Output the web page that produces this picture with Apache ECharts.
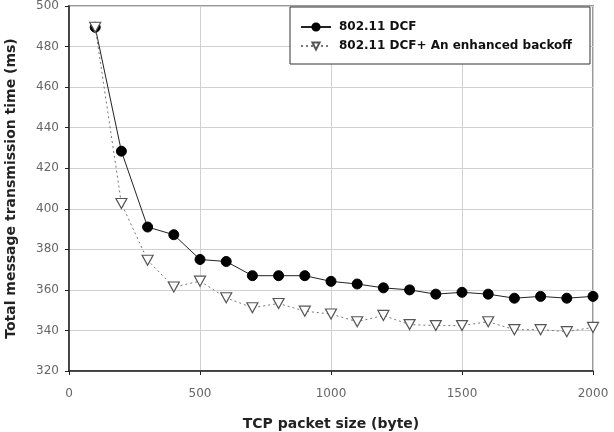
<!DOCTYPE html>
<html>
<head>
<meta charset="utf-8">
<script src="https://cdn.jsdelivr.net/npm/echarts@6/dist/echarts.min.js"></script>
<style>
  html, body { margin: 0; padding: 0; background: #fff; }
  #chart { width: 614px; height: 432px; }
</style>
</head>
<body>
<div id="chart"></div>
<script>
// packet sizes (byte)
var packetSizes = [100, 200, 300, 400, 500, 600, 700, 800, 900, 1000,
  1100, 1200, 1300, 1400, 1500, 1600, 1700, 1800, 1900, 2000];
// 802.11 DCF
var dcf = [489.5, 428.4, 391, 387.2, 375, 374, 367, 367, 367, 364.2,
  362.9, 361, 360, 357.9, 358.8, 357.9, 355.9, 356.8, 355.9, 356.8];
// 802.11 DCF+ enhanced backoff
var enhanced = [489.5, 402.6, 374.6, 361.4, 364.3, 356.1, 351.2, 353.3, 349.5, 348.1,
  344.3, 347.4, 342.9, 342.4, 342.4, 344.3, 340.4, 340.4, 339.4, 341.5];
var seriesNames = ['802.11 DCF', '802.11 DCF+ An enhanced backoff'];

function pairs(ys) {
  return packetSizes.map(function (x, i) { return [x, ys[i]]; });
}

var myChart = echarts.init(document.getElementById('chart'));
var font = 'DejaVu Sans, Verdana, sans-serif';

var option = {
  animation: false,
  textStyle: { fontFamily: font },
  grid: {
    left: 69, right: 21, top: 6, bottom: 61,
    outerBoundsMode: 'none',
    containLabel: false,
    show: true,
    borderColor: '#9a9a9a',
    borderWidth: 2,
    backgroundColor: '#fff'
  },
  legend: {
    left: 290, top: 7,
    orient: 'vertical',
    backgroundColor: '#fff',
    borderColor: '#333',
    borderWidth: 1,
    borderRadius: 0,
    padding: [14, 18, 12, 10],
    itemGap: 7,
    itemWidth: 30,
    itemHeight: 9,
    textStyle: { fontFamily: font, fontSize: 12, fontWeight: 'bold', color: '#111', padding: [0, 0, 0, 3] },
    data: seriesNames
  },
  xAxis: {
    type: 'value',
    min: 0, max: 2000, interval: 500,
    name: 'TCP packet size (byte)',
    nameLocation: 'middle',
    nameGap: 46,
    nameTextStyle: { fontFamily: font, fontSize: 14, fontWeight: 'bold', color: '#222' },
    axisLine: { show: true, onZero: false, lineStyle: { color: '#222', width: 1.5 } },
    axisTick: { show: true, length: 4, lineStyle: { color: '#222' } },
    axisLabel: {
      fontFamily: font, fontSize: 12, color: '#666', margin: 17,
      formatter: function (v) { return String(v); }
    },
    splitLine: { show: true, lineStyle: { color: '#d0d0d0', width: 1 } }
  },
  yAxis: {
    type: 'value',
    min: 320, max: 500, interval: 20,
    name: 'Total message transmission time (ms)',
    nameLocation: 'middle',
    nameGap: 51,
    nameTextStyle: { fontFamily: font, fontSize: 14, fontWeight: 'bold', color: '#222' },
    axisLine: { show: true, lineStyle: { color: '#222', width: 1.5 } },
    axisTick: { show: true, length: 4, lineStyle: { color: '#222' } },
    axisLabel: { fontFamily: font, fontSize: 12, color: '#666', margin: 10 },
    splitLine: { show: true, lineStyle: { color: '#d0d0d0', width: 1 } }
  },
  series: [
    {
      name: seriesNames[0],
      type: 'line',
      data: pairs(dcf),
      symbol: 'circle',
      symbolSize: 10,
      showAllSymbol: true,
      z: 3,
      lineStyle: { color: '#222', width: 1 },
      itemStyle: { color: '#000', borderColor: '#000', borderWidth: 1 }
    },
    {
      name: seriesNames[1],
      type: 'line',
      data: pairs(enhanced),
      symbol: 'triangle',
      symbolRotate: 180,
      symbolSize: [11, 10],
      showAllSymbol: true,
      z: 4,
      lineStyle: { color: '#777', width: 1, type: [2, 3] },
      itemStyle: { color: '#fff', borderColor: '#555', borderWidth: 1.2 }
    }
  ]
};
myChart.setOption(option);
</script>
</body>
</html>
